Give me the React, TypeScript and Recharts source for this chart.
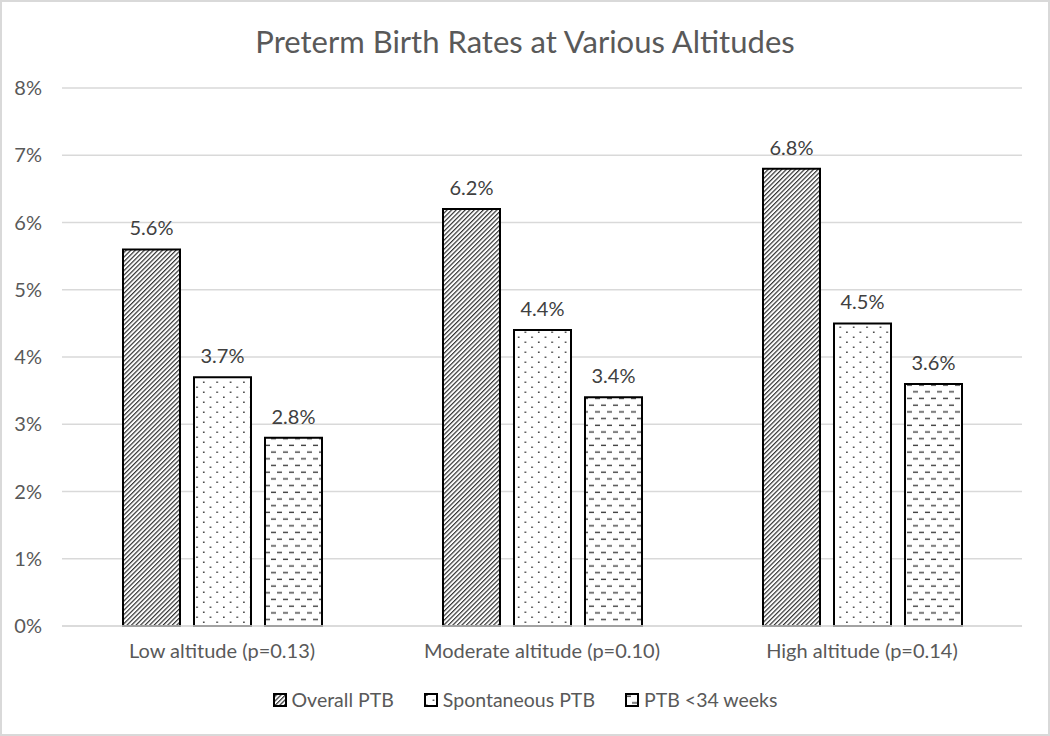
import React from 'react';
import { BarChart, Bar, XAxis, YAxis, CartesianGrid, LabelList } from 'recharts';

// categories and series (values in %)
const categories = ['Low altitude (p=0.13)', 'Moderate altitude (p=0.10)', 'High altitude (p=0.14)'];
const overallPTB = [5.6, 6.2, 6.8];
const spontaneousPTB = [3.7, 4.4, 4.5];
const ptbUnder34 = [2.8, 3.4, 3.6];
const yTicks = [0, 1, 2, 3, 4, 5, 6, 7, 8];

const seriesNames = ['Overall PTB', 'Spontaneous PTB', 'PTB <34 weeks'];
const patternIds = ['patDiag', 'patDots', 'patDash'];

const data = categories.map((name, i) => ({
    name,
    overall: overallPTB[i],
    spont: spontaneousPTB[i],
    under34: ptbUnder34[i],
}));

const FONT = 'Lato, "Open Sans", sans-serif';

// Shared SVG pattern defs
const Patterns = () => (
    <defs>
        <pattern id="patDiag" patternUnits="userSpaceOnUse" width="3.2" height="3.2" patternTransform="rotate(45)">
            <rect x="0" y="0" width="3.2" height="3.2" fill="#fff" />
            <rect x="0" y="0" width="1.2" height="3.2" fill="#333" />
        </pattern>
        <pattern id="patDots" patternUnits="userSpaceOnUse" width="13.4" height="10">
            <rect x="0" y="0" width="13.4" height="10" fill="#fff" />
            <rect x="2" y="1.5" width="1.5" height="1.5" fill="#333" />
            <rect x="8.7" y="6.5" width="1.5" height="1.5" fill="#333" />
        </pattern>
        <pattern id="patDash" patternUnits="userSpaceOnUse" width="12" height="13.4">
            <rect x="0" y="0" width="12" height="13.4" fill="#fff" />
            <rect x="1" y="2.5" width="5" height="1.4" fill="#404040" />
            <rect x="7" y="9.2" width="5" height="1.4" fill="#404040" />
        </pattern>
    </defs>
);

const CustomLegend = () => (
    <div style={{ display: 'flex', justifyContent: 'center', gap: 30, fontFamily: FONT, fontSize: 19.5, color: '#595959' }}>
        {seriesNames.map((s, i) => (
            <div key={s} style={{ display: 'flex', alignItems: 'center', gap: 5 }}>
                <svg width="14" height="14">
                    <Patterns />
                    <rect x="1" y="1" width="12" height="12" fill={`url(#${patternIds[i]})`} stroke="#000" strokeWidth="2" />
                </svg>
                <span>{s}</span>
            </div>
        ))}
    </div>
);

const fmt = (v: any) => `${Number(v).toFixed(1)}%`;

export default function App() {
    return (
        <div style={{ position: 'relative', width: 1050, height: 736, boxSizing: 'border-box', border: '2px solid #d9d9d9', background: '#fff' }}>
            <style>{'body{margin:0}'}</style>
            <div style={{ position: 'absolute', top: 20, width: 1050, textAlign: 'center', fontFamily: FONT, fontSize: 31, color: '#595959', left: -2 }}>
                Preterm Birth Rates at Various Altitudes
            </div>
            <div style={{ position: 'absolute', left: -2, top: -2 }}>
                <BarChart
                    width={1050}
                    height={736}
                    data={data}
                    margin={{ top: 88, right: 28, bottom: 80, left: 12 }}
                    barGap={14}
                    barSize={57}
                >
                    <Patterns />
                    <CartesianGrid vertical={false} stroke="#d9d9d9" strokeWidth={1.5} />
                    <XAxis
                        dataKey="name"
                        height={30}
                        axisLine={{ stroke: '#d9d9d9', strokeWidth: 1.5 }}
                        tickLine={false}
                        tickSize={0}
                        tickMargin={18}
                        tick={{ fill: '#595959', fontSize: 20, fontFamily: FONT }}
                    />
                    <YAxis
                        width={50}
                        domain={[0, 8]}
                        ticks={yTicks}
                        tickFormatter={(v) => `${v}%`}
                        axisLine={false}
                        tickLine={false}
                        tickSize={0}
                        tickMargin={20}
                        tick={{ fill: '#595959', fontSize: 20, fontFamily: FONT }}
                    />
                    <Bar dataKey="overall" fill="url(#patDiag)" stroke="#000" strokeWidth={2} isAnimationActive={false}>
                        <LabelList dataKey="overall" position="top" offset={14} formatter={fmt} fill="#404040" fontSize={20} fontFamily={FONT} />
                    </Bar>
                    <Bar dataKey="spont" fill="url(#patDots)" stroke="#000" strokeWidth={2} isAnimationActive={false}>
                        <LabelList dataKey="spont" position="top" offset={14} formatter={fmt} fill="#404040" fontSize={20} fontFamily={FONT} />
                    </Bar>
                    <Bar dataKey="under34" fill="url(#patDash)" stroke="#000" strokeWidth={2} isAnimationActive={false}>
                        <LabelList dataKey="under34" position="top" offset={14} formatter={fmt} fill="#404040" fontSize={20} fontFamily={FONT} />
                    </Bar>
                </BarChart>
            </div>
            <div style={{ position: 'absolute', top: 686, left: -2, width: 1050 }}>
                <CustomLegend />
            </div>
        </div>
    );
}
